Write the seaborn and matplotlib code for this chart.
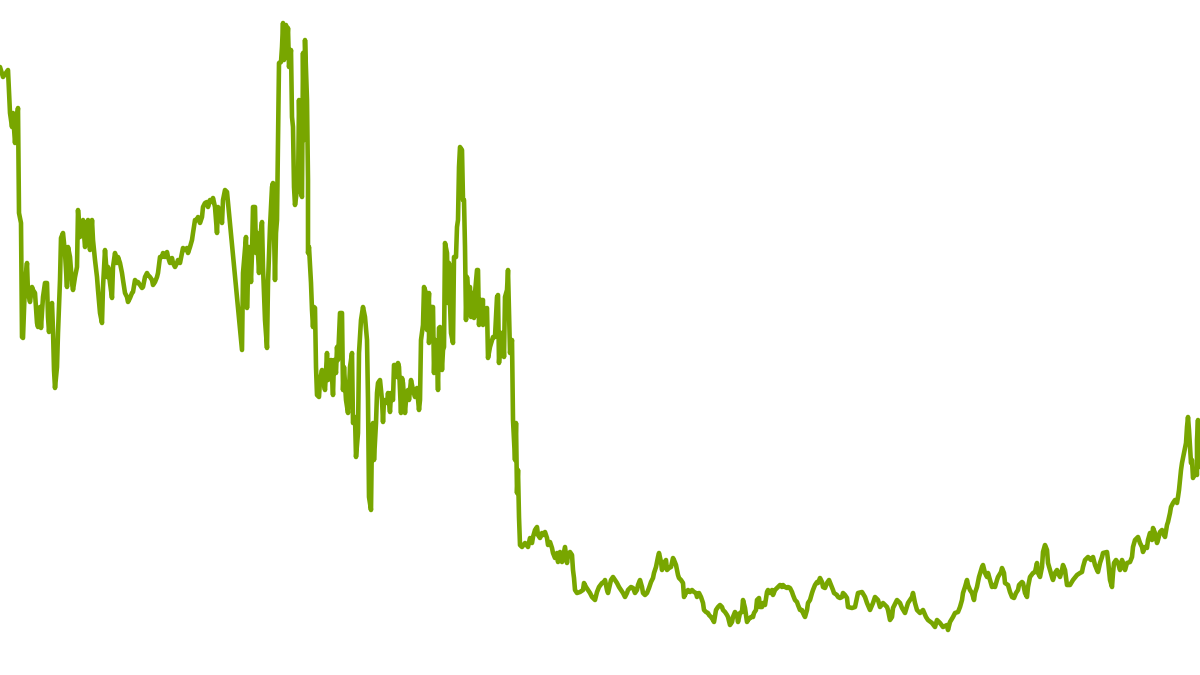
import pandas as pd
import seaborn as sns
import matplotlib
matplotlib.use("Agg")
import matplotlib.pyplot as plt

# --- DATA (day index, price) ---
early = [(0, 633), (3, 623), (8, 630), (10, 587), (12, 573), (13, 587), (15, 557), (17, 583), (18, 592),
         (19, 487), (21, 477), (22, 363), (23, 362), (25, 417), (27, 437), (28, 407), (30, 398), (32, 413),
         (33, 410), (35, 407), (37, 377), (38, 373), (40, 393), (41, 372), (43, 403), (45, 417), (47, 417),
         (48, 383), (49, 368), (51, 393), (52, 397), (53, 370), (54, 330), (55, 312), (57, 333), (58, 367),
         (60, 420), (61, 462), (63, 467), (65, 447), (67, 413), (68, 453), (70, 443), (72, 417), (73, 410),
         (75, 423), (77, 433), (78, 490), (80, 463), (82, 473), (83, 480), (85, 453), (87, 460), (88, 480),
         (90, 450), (92, 480), (93, 460), (95, 440), (97, 423), (98, 410), (100, 387), (102, 377), (103, 413),
         (105, 450), (107, 423), (108, 433), (110, 417), (112, 402), (113, 433), (115, 447), (117, 437),
         (118, 443), (120, 437), (122, 427), (123, 420), (125, 407), (127, 403), (128, 398), (130, 402),
         (132, 407), (133, 408), (135, 420), (137, 417), (138, 418), (140, 415), (142, 412), (143, 413),
         (145, 423), (147, 427), (148, 425), (150, 423), (152, 420), (153, 415), (155, 418), (157, 423),
         (158, 427), (160, 443), (162, 443), (163, 447), (165, 443), (167, 448), (168, 443), (170, 437),
         (172, 442), (173, 437), (175, 433), (177, 437), (178, 440), (180, 437), (182, 447), (183, 452),
         (185, 450), (187, 452), (188, 447), (190, 453), (192, 460), (193, 467), (195, 480), (197, 480),
         (198, 483), (200, 477), (202, 483), (203, 493), (205, 497), (207, 498), (208, 493), (210, 500),
         (212, 498), (213, 502), (215, 493), (217, 467), (218, 493), (220, 488), (222, 477), (223, 500),
         (225, 510), (227, 508)]

volatile = [(242, 350), (243, 427), (246, 463), (247, 392), (249, 453), (251, 418), (252, 447), (253, 493),
            (255, 493), (256, 447), (257, 467), (259, 427), (261, 470), (262, 478), (263, 433), (265, 380),
            (267, 352), (268, 417), (270, 473), (272, 513), (273, 517), (275, 420), (276, 467), (277, 480),
            (278, 563), (279, 637), (281, 638), (282, 653), (283, 677), (284, 640), (286, 675), (287, 657),
            (288, 672), (289, 633), (291, 650), (292, 583), (293, 573), (294, 513), (295, 495), (297, 510),
            (298, 510), (299, 600), (301, 507), (302, 503), (303, 647), (304, 560), (305, 660), (307, 600),
            (308, 520), (308, 447), (309, 453), (311, 417), (312, 390), (313, 373), (314, 393), (315, 392),
            (316, 333), (317, 305), (319, 303), (320, 320), (322, 330), (323, 320), (325, 310), (327, 347),
            (328, 320), (331, 340), (333, 305), (334, 340), (336, 327), (337, 353), (338, 340), (340, 387),
            (342, 387), (343, 310), (344, 333), (346, 300), (348, 287), (350, 333), (352, 347), (353, 277),
            (355, 283), (356, 243), (358, 267), (359, 347), (361, 380), (363, 393), (364, 388), (365, 383),
            (367, 360), (368, 300), (369, 203), (371, 190), (372, 267), (373, 277), (374, 240), (376, 277),
            (377, 307), (378, 317), (380, 320), (382, 300), (383, 278), (384, 300), (387, 297), (388, 307),
            (390, 288), (391, 307), (393, 300), (394, 335), (395, 335), (397, 323), (398, 337), (399, 333),
            (401, 287), (402, 322), (403, 317), (405, 287), (406, 300), (408, 310), (409, 300), (411, 320),
            (413, 310), (415, 303), (417, 312), (419, 290), (420, 300), (421, 360), (423, 375), (424, 413),
            (426, 407), (427, 370), (429, 407), (429, 357), (431, 393), (433, 393), (434, 327), (435, 360),
            (437, 347), (438, 310), (439, 372), (440, 373), (442, 330), (443, 350), (444, 353), (445, 457),
            (447, 447), (448, 397), (449, 437), (450, 397), (451, 367), (453, 357), (454, 443), (456, 443),
            (457, 473), (458, 480), (459, 533), (460, 553), (462, 550), (463, 500), (464, 500), (465, 453),
            (466, 380), (467, 423), (468, 410), (470, 413), (471, 383), (473, 407), (474, 382), (475, 407),
            (477, 430), (478, 430), (479, 375), (481, 400), (483, 400), (483, 375), (485, 390), (487, 392),
            (488, 342), (490, 353), (493, 363), (495, 363), (497, 403), (498, 405), (499, 337), (501, 367),
            (503, 367), (504, 343), (505, 403), (507, 410), (508, 430), (510, 347), (512, 360), (513, 280),
            (515, 240), (516, 277), (517, 207), (518, 230), (519, 183)]

slump = [(520, 155), (522, 153), (525, 157), (528, 153), (530, 162), (532, 157), (533, 163), (535, 170),
         (537, 173), (538, 165), (540, 162), (542, 167), (543, 165), (545, 168), (547, 162), (548, 155),
         (550, 158), (552, 152), (553, 147), (555, 142), (557, 147), (558, 138), (560, 148), (562, 138),
         (563, 143), (565, 153), (567, 137), (568, 145), (570, 148), (572, 145), (573, 130), (574, 122),
         (575, 110), (577, 107), (580, 108), (583, 110), (584, 117), (586, 113), (588, 110), (590, 107),
         (592, 103), (593, 102), (595, 100), (597, 108), (599, 113), (602, 117), (604, 118), (605, 120),
         (607, 110), (608, 107), (611, 120), (613, 123), (615, 120), (617, 117), (619, 113), (621, 110),
         (623, 107), (625, 103), (627, 107), (628, 110), (631, 113), (633, 112), (635, 107), (637, 110),
         (638, 115), (640, 120), (642, 113), (643, 107), (645, 105), (647, 107), (649, 112), (651, 118),
         (653, 122), (654, 127), (656, 133), (658, 143), (659, 147), (661, 138), (662, 130), (664, 137),
         (666, 140), (667, 130), (669, 132), (671, 133), (673, 142), (674, 140), (676, 135), (678, 125),
         (679, 122), (681, 120), (683, 117), (684, 103), (686, 107), (688, 110), (690, 108), (692, 110),
         (694, 108), (696, 107), (697, 103), (699, 107), (701, 103), (703, 97), (704, 90), (706, 88),
         (708, 87), (709, 85), (711, 83), (713, 80), (714, 78), (716, 90), (718, 93), (720, 95), (722, 93),
         (723, 90), (725, 88), (727, 85), (728, 83), (730, 75), (732, 78), (733, 83), (735, 88), (737, 85),
         (738, 78), (740, 87), (742, 88), (743, 100), (745, 92), (747, 78), (748, 80), (751, 83), (753, 83),
         (754, 87), (756, 90), (757, 100), (759, 102), (760, 93), (762, 93), (763, 97), (765, 95), (767, 108),
         (768, 110), (770, 107), (772, 110), (773, 105), (775, 110), (777, 112), (778, 113), (780, 115),
         (782, 113), (783, 115), (785, 113), (787, 112), (788, 113), (790, 112), (792, 108), (793, 105),
         (795, 100), (797, 98), (798, 95), (800, 90), (802, 90), (803, 87), (805, 83), (807, 90), (808, 97),
         (810, 100), (812, 107), (813, 110), (815, 115), (817, 118), (818, 117), (820, 122), (822, 118),
         (823, 113), (825, 112), (827, 117), (829, 120), (831, 115), (833, 110), (834, 107), (837, 105),
         (838, 103), (840, 102), (842, 103), (843, 107), (845, 105), (847, 102)]

recovery = [(848, 93), (852, 92), (855, 93), (858, 107), (862, 108), (865, 103), (867, 97), (870, 90),
            (873, 97), (875, 103), (878, 100), (880, 93), (883, 97), (887, 93), (888, 90), (890, 80), (892, 83),
            (893, 92), (897, 100), (900, 97), (902, 92), (905, 87), (908, 97), (912, 103), (913, 107),
            (915, 97), (917, 90), (920, 87), (923, 90), (926, 83), (928, 80), (932, 77), (935, 73), (937, 80),
            (940, 77), (943, 73), (947, 75), (948, 70), (950, 78), (953, 83), (955, 87), (958, 88), (960, 93),
            (962, 100), (963, 107), (965, 113), (967, 120), (968, 115), (970, 110), (972, 107), (974, 100),
            (975, 107), (977, 113), (979, 123), (982, 133), (983, 135), (985, 127), (987, 123), (988, 127),
            (990, 120), (992, 113), (993, 115), (995, 113), (997, 120), (998, 123), (1001, 128), (1002, 132),
            (1004, 127), (1005, 117), (1008, 115), (1010, 108), (1012, 103), (1014, 102), (1016, 107),
            (1018, 110), (1019, 115), (1022, 118), (1023, 117), (1025, 107), (1027, 103), (1028, 113),
            (1030, 123), (1033, 127), (1035, 128), (1037, 137), (1038, 127), (1040, 123), (1042, 133),
            (1043, 148), (1045, 155), (1047, 150), (1048, 137), (1050, 130), (1052, 123), (1053, 120),
            (1055, 127), (1057, 130), (1058, 127), (1060, 123), (1062, 130), (1063, 135), (1065, 130),
            (1067, 115), (1070, 115), (1073, 120), (1077, 125), (1080, 127), (1082, 128), (1083, 133),
            (1085, 140), (1087, 142), (1088, 143), (1091, 140), (1093, 143), (1095, 135), (1097, 130),
            (1098, 128), (1100, 137), (1102, 143), (1103, 147), (1107, 148), (1108, 140), (1110, 120),
            (1112, 113), (1113, 127), (1114, 137), (1116, 140), (1118, 137), (1120, 130), (1122, 140),
            (1123, 137), (1125, 130), (1127, 137), (1130, 138), (1132, 143), (1133, 153), (1135, 160),
            (1137, 162), (1138, 163), (1140, 157), (1142, 153), (1143, 148), (1145, 153), (1147, 152),
            (1148, 160), (1150, 167), (1152, 160), (1153, 172), (1155, 167), (1157, 157), (1158, 160),
            (1160, 168), (1162, 170), (1163, 167), (1165, 163), (1167, 175), (1168, 178), (1170, 187),
            (1171, 193), (1173, 197), (1175, 200), (1177, 197), (1178, 203), (1179, 210), (1181, 230),
            (1182, 237), (1184, 247), (1186, 257), (1187, 273), (1188, 283), (1189, 270), (1191, 237),
            (1192, 240), (1193, 222), (1195, 227), (1197, 225), (1197, 260), (1198, 280), (1199, 233),
            (1200, 267)]

series = pd.DataFrame(early + volatile + slump + recovery, columns=["day", "price"])

# --- PLOT ---
sns.set_style("white")
fig = plt.figure(figsize=(12, 6.75), dpi=100)
ax = fig.add_axes([0, 0, 1, 1])

sns.lineplot(data=series, x="day", y="price", ax=ax, sort=False, estimator=None,
             color="#78a600", linewidth=3.3, solid_joinstyle="round", solid_capstyle="round")

ax.set_xlim(0, 1200)
ax.set_ylim(25, 700)
ax.axis("off")

fig.savefig("out.png", dpi=100, facecolor="white")
